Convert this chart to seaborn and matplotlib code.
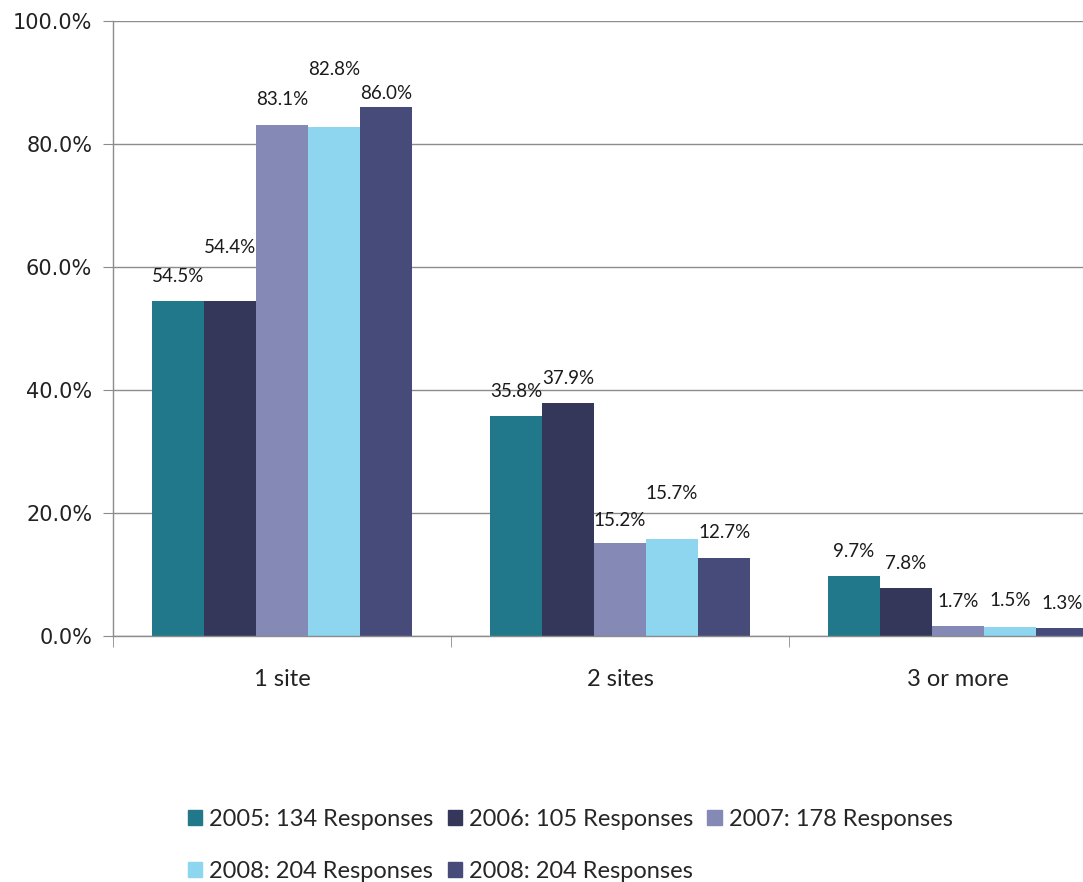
import pandas as pd
import matplotlib.pyplot as plt
import seaborn as sns

# Data
categories = ["1 site", "2 sites", "3 or more"]
series_keys = ["2005", "2006", "2007", "2008a", "2008b"]
series_labels = ["2005: 134 Responses", "2006: 105 Responses", "2007: 178 Responses",
                 "2008: 204 Responses", "2008: 204 Responses"]
values = {
    "2005": [54.5, 35.8, 9.7],
    "2006": [54.4, 37.9, 7.8],
    "2007": [83.1, 15.2, 1.7],
    "2008a": [82.8, 15.7, 1.5],
    "2008b": [86.0, 12.7, 1.3],
}
colors = ["#21788A", "#35375A", "#8589B5", "#8ED5EF", "#474B7A"]

# label lift above bar top in pixels (Excel staggered a few of them)
label_lift = {
    "2005": [24, 24, 25],
    "2006": [54, 24, 25],
    "2007": [25, 22, 24],
    "2008a": [57, 46, 26],
    "2008b": [14, 25, 25],
}

rows = []
for key in series_keys:
    for cat, v in zip(categories, values[key]):
        rows.append({"Category": cat, "Series": key, "Percent": v})
df = pd.DataFrame(rows)

sns.set_style("white")
plt.rcParams["font.family"] = ["Lato", "DejaVu Sans"]

fig = plt.figure(figsize=(10.83, 8.82), dpi=100)
ax = fig.add_axes([113 / 1083, 1 - 636 / 882, 1014 / 1083, 615 / 882])

sns.barplot(data=df, x="Category", y="Percent", hue="Series",
            hue_order=series_keys, palette=colors, width=0.77, gap=0,
            saturation=1, ax=ax, legend=False)

for key, cont in zip(series_keys, ax.containers):
    for i, bar in enumerate(cont):
        v = values[key][i]
        ax.annotate(f"{v:.1f}%",
                    (bar.get_x() + bar.get_width() / 2, bar.get_height()),
                    xytext=(0, label_lift[key][i]), textcoords="offset pixels",
                    ha="center", va="center", fontsize=13.5, color="#1a1a1a")
    for bar in cont:
        bar.set_edgecolor("none")

ax.set_ylim(0, 100)
ax.set_xlim(-0.5, 2.5)
ax.set_yticks([0, 20, 40, 60, 80, 100])
ax.set_yticklabels([f"{t:.1f}%" for t in [0, 20, 40, 60, 80, 100]],
                   fontfamily="DejaVu Sans", fontsize=15, color="#222222")
ax.yaxis.grid(True, color="#8c8c8c", linewidth=1)
ax.set_axisbelow(True)
ax.tick_params(axis="y", length=7, color="#8c8c8c", direction="out", pad=8, left=True)
ax.tick_params(axis="x", which="major", length=0, pad=24, labelsize=17, labelcolor="#222222")
ax.set_xticks([-0.5, 0.5, 1.5, 2.5], minor=True)
ax.tick_params(axis="x", which="minor", length=8, color="#8c8c8c", direction="out", bottom=True)
ax.set_xlabel("")
ax.set_ylabel("")
for side in ["top", "right"]:
    ax.spines[side].set_visible(False)
for side in ["left", "bottom"]:
    ax.spines[side].set_color("#8c8c8c")
    ax.spines[side].set_linewidth(1)

handles = [plt.Rectangle((0, 0), 1, 1, color=c) for c in colors]
order = [0, 3, 1, 4, 2]
fig.legend([handles[i] for i in order], [series_labels[i] for i in order],
           loc="upper left", bbox_to_anchor=(188 / 1083, 1 - 809 / 882),
           ncol=3, frameon=False, fontsize=17, handlelength=0.6,
           handleheight=0.6, handletextpad=0.3, columnspacing=0.6,
           labelspacing=1.3, borderaxespad=0, borderpad=0)

fig.savefig("out.png", dpi=100)
